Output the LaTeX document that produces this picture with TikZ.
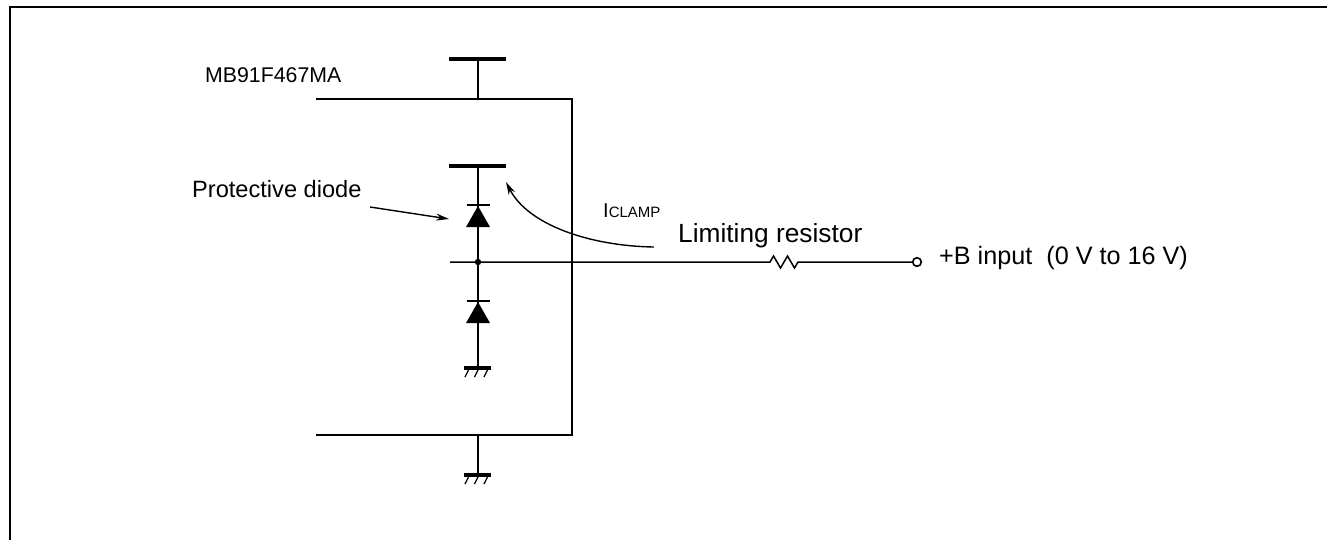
\documentclass[tikz,border=0pt]{standalone}
\usepackage{fontspec}
\setmainfont{Liberation Sans}
\usetikzlibrary{arrows.meta}
\tikzset{
  wire/.style={line width=1.5pt,line cap=butt},
  bar/.style={line width=3.4pt},
  frame/.style={line width=2.6pt},
  lbl/.style={inner sep=0pt,anchor=base west},
  arr/.style={line width=1.4pt,-{Stealth[length=13pt,width=7pt]}},
  dfill/.style={fill=black,draw=none}
}
\begin{document}
\begin{tikzpicture}[x=1pt,y=-1pt]
\useasboundingbox (0,0) rectangle (1327,539);
% outer frame
\draw[frame] (10,540) -- (10,7) -- (1328,7);
% coordinates
\coordinate (vtop) at (478,59);
\coordinate (boxtop) at (478,99);
\coordinate (vin) at (478,166);
\coordinate (d1) at (478,205);
\coordinate (j) at (478,262);
\coordinate (d2) at (478,301);
\coordinate (g1) at (478,368);
\coordinate (boxbot) at (478,435);
\coordinate (g2) at (478,475);
\coordinate (rl) at (765,262);
\coordinate (rr) at (805,262);
\coordinate (pin) at (917,262);
% supply bars
\draw[bar] (449,59) -- (506,59);
\draw[wire] (vtop) -- (boxtop);
\draw[bar] (449,166) -- (506,166);
% chip outline
\draw[wire] (316,99) -- (572,99) -- (572,435) -- (316,435);
% vertical chain
\draw[wire] (vin) -- (g1);
\draw[wire] (boxbot) -- (g2);
% diodes (cathode bar on top, triangle pointing up)
\foreach \d in {d1,d2}{
  \draw[line width=2.6pt] ([xshift=-11.5pt]\d) -- ([xshift=11.5pt]\d);
  \fill[dfill] ([yshift=-1pt]\d) -- ([xshift=-12pt,yshift=-22pt]\d) -- ([xshift=12pt,yshift=-22pt]\d) -- cycle;
}
% grounds
\foreach \g in {g1,g2}{
  \draw[line width=3.2pt] ([xshift=-14pt]\g) -- ([xshift=13pt]\g);
  \foreach \i in {0,1,2}{
    \draw[line width=1.3pt] ([xshift=-9pt+\i*9.5pt,yshift=-1pt]\g) -- ([xshift=-13pt+\i*9.5pt,yshift=-9pt]\g);
  }
}
% horizontal signal line with resistor
\draw[wire] (450,262) -- (j) -- (rl) -- ++(5,0) -- ++(3.5,-6) -- ++(7,12) -- ++(7,-12) -- ++(7,12) -- ++(3.5,-6) -- (rr) -- ([xshift=-4.5pt]pin);
\fill (j) circle (3.2pt);
\draw[line width=1.6pt] (pin) circle (4.3pt);
% labels
\node[lbl,font=\fontsize{21.3pt}{24pt}\selectfont] (chip) at (205,82) {MB91F467MA};
\node[lbl,font=\fontsize{23.6pt}{26pt}\selectfont] (pd) at (192,197) {Protective diode};
\node[lbl] (ic) at (603,217) {\fontsize{20pt}{22pt}\selectfont I\fontsize{15pt}{17pt}\selectfont CLAMP};
\node[lbl,font=\fontsize{26.3pt}{28pt}\selectfont] (lr) at (678,242) {Limiting resistor};
\node[lbl,font=\fontsize{25.2pt}{28pt}\selectfont] (bin) at (939,264) {+B input\ \ (0 V to 16 V)};
% arrows
\coordinate (pdt) at (370,207);
\coordinate (pdh) at (449,219);
\draw[arr] (pdt) -- (pdh);
\coordinate (ict) at (654,247);
\coordinate (ich) at (506,182);
\draw[arr] (ict) .. controls (590,246) and (528,225) .. (ich);
\end{tikzpicture}
\end{document}
